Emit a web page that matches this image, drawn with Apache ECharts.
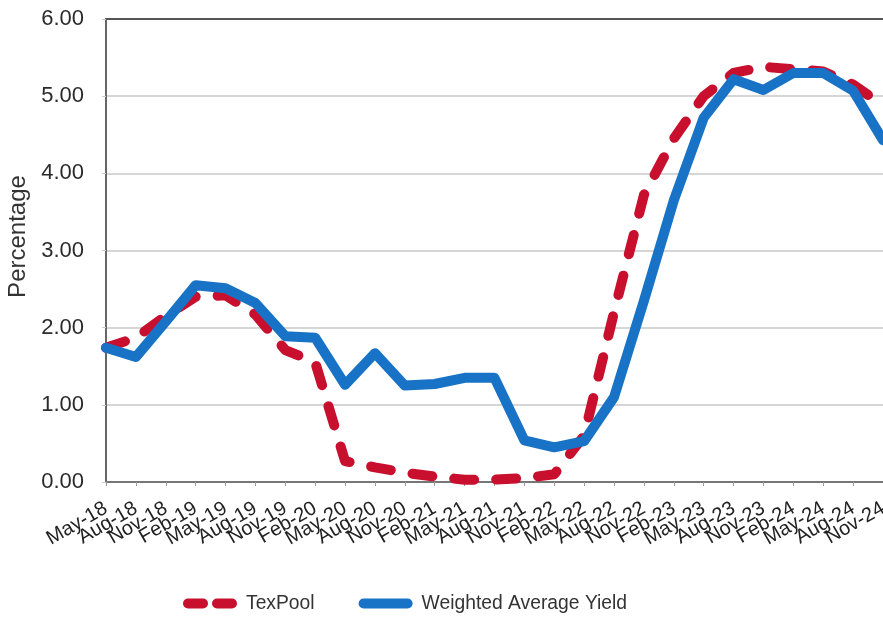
<!DOCTYPE html>
<html>
<head>
<meta charset="utf-8">
<script src="https://cdn.jsdelivr.net/npm/echarts@6/dist/echarts.min.js"></script>
<style>
  html, body { margin: 0; padding: 0; background: #fff; }
  #chart { width: 883px; height: 620px; }
</style>
</head>
<body>
<div id="chart"></div>
<script>
const categories = [
  'May-18', 'Aug-18', 'Nov-18', 'Feb-19', 'May-19', 'Aug-19', 'Nov-19',
  'Feb-20', 'May-20', 'Aug-20', 'Nov-20', 'Feb-21', 'May-21', 'Aug-21',
  'Nov-21', 'Feb-22', 'May-22', 'Aug-22', 'Nov-22', 'Feb-23', 'May-23',
  'Aug-23', 'Nov-23', 'Feb-24', 'May-24', 'Aug-24', 'Nov-24'
]
const texPool = [
  1.74, 1.87, 2.15, 2.40, 2.42, 2.17, 1.71,
  1.55, 0.27, 0.19, 0.12, 0.07, 0.03, 0.03,
  0.05, 0.10, 0.60, 2.20, 3.72, 4.45, 5.00,
  5.30, 5.38, 5.35, 5.32, 5.15, 4.88
]
const weightedAvgYield = [
  1.74, 1.62, 2.08, 2.55, 2.51, 2.32, 1.89,
  1.87, 1.26, 1.67, 1.25, 1.27, 1.35, 1.35,
  0.54, 0.45, 0.53, 1.10, 2.35, 3.65, 4.72,
  5.22, 5.08, 5.30, 5.30, 5.07, 4.43
]
const yTicks = { min: 0, max: 6, interval: 1 }

const red = '#c8102e'
const blue = '#1873c6'

// legend swatches: two rounded dashes / one rounded bar
const dashIcon = 'path://M5,0H20A5,5 0 0 1 20,10H5A5,5 0 0 1 5,0Z M34,0H49A5,5 0 0 1 49,10H34A5,5 0 0 1 34,0Z'
const barIcon = 'path://M5,0H49A5,5 0 0 1 49,10H5A5,5 0 0 1 5,0Z'

const chart = echarts.init(document.getElementById('chart'))

chart.setOption({
  animation: false,
  backgroundColor: '#fff',
  textStyle: { fontFamily: 'Liberation Sans, Arial, sans-serif' },
  grid: { left: 106, top: 19, right: 0, bottom: 138, outerBoundsMode: 'none', containLabel: false },
  legend: {
    left: 178,
    bottom: 2,
    itemWidth: 54,
    itemHeight: 10,
    itemGap: 44,
    textStyle: { color: '#333', fontSize: 19.3, padding: [0, 0, 0, 4] },
    data: [
      { name: 'TexPool', icon: dashIcon, itemStyle: { color: red, borderWidth: 0 } },
      { name: 'Weighted Average Yield', icon: barIcon, itemStyle: { color: blue, borderWidth: 0 } }
    ]
  },
  xAxis: [
    {
      type: 'category',
      data: categories,
      boundaryGap: false,
      axisLine: { lineStyle: { color: '#777', width: 2 } },
      axisTick: { show: true, length: 4, lineStyle: { color: '#999' } },
      axisLabel: {
        interval: 0,
        rotate: 30,
        fontSize: 20,
        color: '#222',
        margin: 25
      }
    },
    {
      type: 'category',
      position: 'top',
      data: categories,
      boundaryGap: false,
      axisLine: { show: true, lineStyle: { color: '#555', width: 2 } },
      axisTick: { show: false },
      axisLabel: { show: false }
    }
  ],
  yAxis: {
    type: 'value',
    min: yTicks.min,
    max: yTicks.max,
    interval: yTicks.interval,
    name: 'Percentage',
    nameLocation: 'middle',
    nameGap: 76,
    nameTextStyle: { color: '#333', fontSize: 24, padding: [0, 0, 0, 28] },
    axisLine: { show: true, lineStyle: { color: '#666', width: 2 } },
    axisTick: { show: true, length: 4, lineStyle: { color: '#ccc' } },
    axisLabel: {
      fontSize: 22,
      color: '#2b2b2b',
      margin: 22,
      formatter: (v) => v.toFixed(2)
    },
    splitLine: { lineStyle: { color: '#c8c8c8', width: 1.5 } }
  },
  series: [
    {
      name: 'TexPool',
      type: 'line',
      data: texPool,
      symbol: 'none',
      color: red,
      lineStyle: { color: red, width: 10, type: [20, 22], cap: 'round', join: 'round' }
    },
    {
      name: 'Weighted Average Yield',
      type: 'line',
      data: weightedAvgYield,
      symbol: 'none',
      color: blue,
      lineStyle: { color: blue, width: 10, cap: 'round', join: 'round' }
    }
  ]
})
</script>
</body>
</html>
